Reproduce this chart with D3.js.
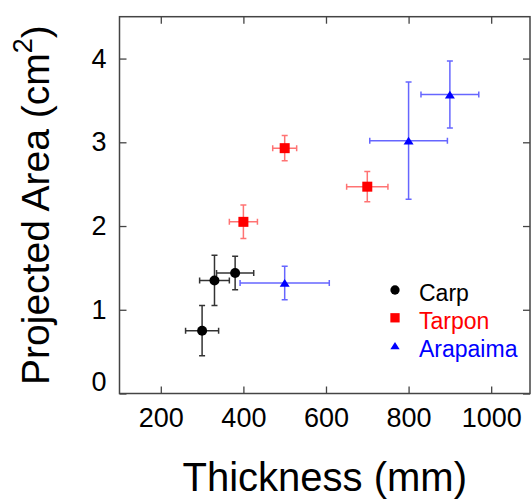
<!DOCTYPE html>
<html>
<head>
<meta charset="utf-8">
<script src="https://cdn.jsdelivr.net/npm/d3@7"></script>
<style>
  body { margin: 0; background: #fff; }
  svg text { font-family: "Liberation Sans", Arial, sans-serif; }
</style>
</head>
<body>
<div id="chart"></div>
<script>
// data
const seriesNames = ["Carp", "Tarpon", "Arapaima"];
const seriesColors = ["#000000", "#ff0000", "#0000ff"];
const seriesShapes = ["circle", "square", "triangle"];
const errOpacity = [0.8, 0.55, 0.6];

const carpX = [300, 330, 380];
const carpY = [0.75, 1.35, 1.44];
const carpXErr = [40, 36, 45];
const carpYErr = [0.3, 0.3, 0.2];

const tarponX = [400, 500, 700];
const tarponY = [2.05, 2.93, 2.47];
const tarponXErr = [34, 29, 50];
const tarponYErr = [0.2, 0.15, 0.18];

const arapaimaX = [500, 800, 900];
const arapaimaY = [1.32, 3.02, 3.57];
const arapaimaXErr = [108, 94, 70];
const arapaimaYErr = [0.2, 0.7, 0.4];

const xTicks = [200, 400, 600, 800, 1000];
const yTicks = [0, 1, 2, 3, 4];

const width = 532, height = 499;
const mLeft = 119.5, mRight = 530, mTop = 16.7, mBottom = 393.5;

const svg = d3.select("#chart").append("svg")
    .attr("width", width)
    .attr("height", height);

const x = d3.scaleLinear().domain([100, 1094]).range([mLeft, mRight]);
const y = d3.scaleLinear().domain([0, 4.5]).range([mBottom, mTop]);

const allX = [carpX, tarponX, arapaimaX];
const allY = [carpY, tarponY, arapaimaY];
const allXErr = [carpXErr, tarponXErr, arapaimaXErr];
const allYErr = [carpYErr, tarponYErr, arapaimaYErr];

const series = seriesNames.map((name, i) => ({
    name: name,
    color: seriesColors[i],
    shape: seriesShapes[i],
    op: errOpacity[i],
    points: allX[i].map((v, j) => ({ x: v, y: allY[i][j], ex: allXErr[i][j], ey: allYErr[i][j] }))
}));

// axes (ticks point inwards)
const axisColor = "#444";
const fontSize = 27;
const fmt = d3.format("d");

svg.append("g")
    .attr("transform", `translate(0,${mBottom})`)
    .call(d3.axisBottom(x).tickValues(xTicks).tickFormat(fmt).tickSize(-7).tickPadding(14));
svg.append("g")
    .attr("transform", `translate(0,${mTop})`)
    .call(d3.axisTop(x).tickValues(xTicks).tickSize(-7).tickFormat(""));
const gy = svg.append("g")
    .attr("transform", `translate(${mLeft},0)`)
    .call(d3.axisLeft(y).tickValues(yTicks).tickFormat(fmt).tickSize(-7).tickPadding(13));
svg.append("g")
    .attr("transform", `translate(${mRight},0)`)
    .call(d3.axisRight(y).tickValues(yTicks).tickSize(-7).tickFormat(""));

svg.selectAll(".domain").remove();
svg.selectAll(".tick line").attr("stroke", axisColor).attr("stroke-width", 1.3);
svg.selectAll(".tick text")
    .attr("fill", "#000")
    .style("font-size", fontSize + "px");
// the 0 label sits a little above its tick
gy.selectAll(".tick text").filter(d => d === 0).attr("y", -12);

// frame
svg.append("rect")
    .attr("x", mLeft).attr("y", mTop)
    .attr("width", mRight - mLeft).attr("height", mBottom - mTop)
    .attr("fill", "none")
    .attr("stroke", axisColor)
    .attr("stroke-width", 1.5);

// error bars
const cap = 3;
series.forEach(s => {
    const g = svg.append("g")
        .attr("stroke", s.color)
        .attr("stroke-opacity", s.op)
        .attr("stroke-width", 1.5)
        .attr("fill", "none");
    s.points.forEach(p => {
        const cx = x(p.x), cy = y(p.y);
        const x0 = x(p.x - p.ex), x1 = x(p.x + p.ex);
        const y0 = y(p.y - p.ey), y1 = y(p.y + p.ey);
        g.append("path").attr("d",
            `M${x0},${cy}H${x1}` +
            `M${x0},${cy - cap}V${cy + cap}M${x1},${cy - cap}V${cy + cap}` +
            `M${cx},${y0}V${y1}` +
            `M${cx - cap},${y0}H${cx + cap}M${cx - cap},${y1}H${cx + cap}`);
    });
});

function marker(g, shape, cx, cy, size, color) {
    if (shape === "circle") {
        g.append("circle").attr("cx", cx).attr("cy", cy).attr("r", size / 2).attr("fill", color);
    } else if (shape === "square") {
        g.append("rect").attr("x", cx - size / 2).attr("y", cy - size / 2)
            .attr("width", size).attr("height", size).attr("fill", color);
    } else {
        const h = size * 0.78;
        g.append("path")
            .attr("d", `M${cx},${cy - h / 2}L${cx + size / 2},${cy + h / 2}L${cx - size / 2},${cy + h / 2}Z`)
            .attr("fill", color);
    }
}

// markers
series.forEach(s => {
    const g = svg.append("g");
    s.points.forEach(p => marker(g, s.shape, x(p.x), y(p.y), 10, s.color));
});

// legend
const legend = svg.append("g");
series.forEach((s, i) => {
    const cy = 290 + i * 27.8;
    marker(legend, s.shape, 395, cy, 9.3, s.color);
    legend.append("text")
        .attr("x", 419)
        .attr("y", cy + 11)
        .attr("fill", s.color)
        .style("font-size", "23px")
        .text(s.name);
});

// axis titles
svg.append("text")
    .attr("x", (mLeft + mRight) / 2)
    .attr("y", 491)
    .attr("text-anchor", "middle")
    .style("font-size", "40px")
    .text("Thickness (mm)");

const yt = svg.append("text")
    .attr("transform", `translate(49,${(mTop + mBottom) / 2}) rotate(-90)`)
    .attr("text-anchor", "middle")
    .style("font-size", "39px");
yt.append("tspan").text("Projected Area (cm");
yt.append("tspan").attr("dy", -17).style("font-size", "27px").text("2");
yt.append("tspan").attr("dy", 17).text(")");
</script>
</body>
</html>
